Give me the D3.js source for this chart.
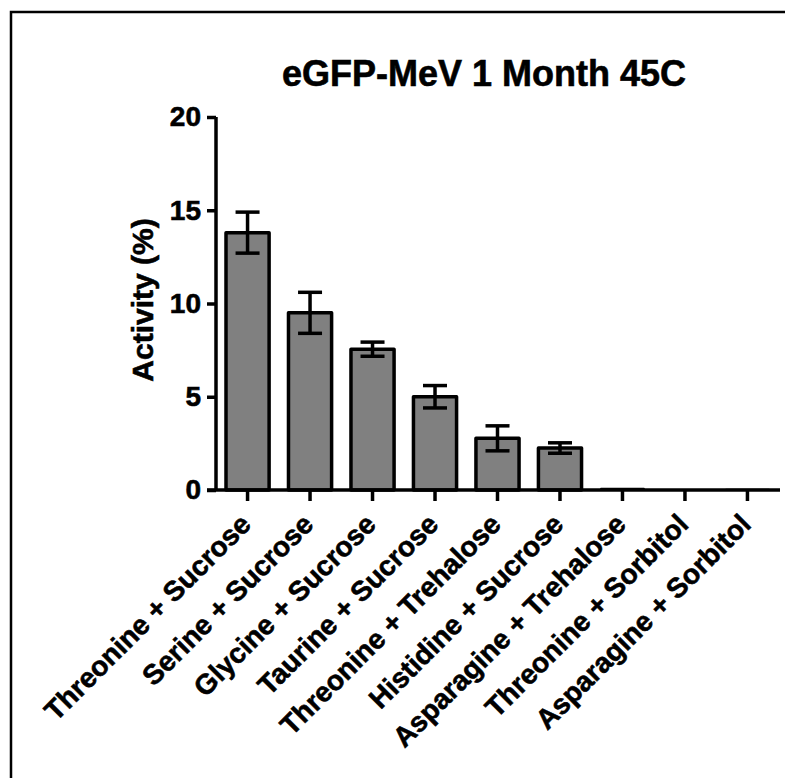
<!DOCTYPE html>
<html>
<head>
<meta charset="utf-8">
<script src="https://cdn.jsdelivr.net/npm/d3@7"></script>
<style>
  body { margin: 0; background: #fff; }
  text { font-family: "Liberation Sans", Arial, sans-serif; font-weight: bold; fill: #000; stroke: #000; stroke-width: 0.6px; }
</style>
</head>
<body>
<svg width="785" height="778"></svg>
<script>
// data
var categories = ["Threonine + Sucrose", "Serine + Sucrose", "Glycine + Sucrose", "Taurine + Sucrose",
                  "Threonine + Trehalose", "Histidine + Sucrose", "Asparagine + Trehalose",
                  "Threonine + Sorbitol", "Asparagine + Sorbitol"];
var means = [13.8, 9.5, 7.55, 5.0, 2.77, 2.25, 0.08, 0, 0.03];
var errors = [1.1, 1.1, 0.38, 0.6, 0.67, 0.28, 0.02, 0, 0];
var yTicks = [0, 5, 10, 15, 20];

var svg = d3.select("svg"),
    width = +svg.attr("width"),
    height = +svg.attr("height");

// outer frame (only top and left edges show)
svg.append("path")
    .attr("d", "M11,778V12H785")
    .attr("fill", "none")
    .attr("stroke", "#000")
    .attr("stroke-width", 2.5);

var x = d3.scaleBand()
    .domain(categories)
    .range([216, 779])
    .paddingInner(0.31)
    .paddingOuter(0.16);

var y = d3.scaleLinear()
    .domain([0, 20])
    .range([490, 117]);

// bars
svg.append("g")
    .selectAll("rect")
    .data(means)
    .enter().append("rect")
    .attr("x", function(d, i) { return x(categories[i]); })
    .attr("y", function(d) { return y(d); })
    .attr("width", x.bandwidth())
    .attr("height", function(d) { return y(0) - y(d); })
    .attr("fill", "#808080")
    .attr("stroke", "#000")
    .attr("stroke-width", function(d) { return d > 0.5 ? 3.5 : 1.5; })
    .attr("stroke-linejoin", "round");

// error bars
var err = svg.append("g")
    .attr("stroke", "#000")
    .attr("stroke-width", 3.5)
    .selectAll("g")
    .data(means.map(function(d, i) { return {m: d, e: errors[i], c: categories[i]}; }).filter(function(d) { return d.e > 0.1; }))
    .enter().append("g");

var cap = 12;
err.append("line")
    .attr("x1", function(d) { return x(d.c) + x.bandwidth() / 2; })
    .attr("x2", function(d) { return x(d.c) + x.bandwidth() / 2; })
    .attr("y1", function(d) { return y(d.m + d.e); })
    .attr("y2", function(d) { return y(d.m - d.e); });
err.append("line")
    .attr("x1", function(d) { return x(d.c) + x.bandwidth() / 2 - cap; })
    .attr("x2", function(d) { return x(d.c) + x.bandwidth() / 2 + cap; })
    .attr("y1", function(d) { return y(d.m + d.e); })
    .attr("y2", function(d) { return y(d.m + d.e); });
err.append("line")
    .attr("x1", function(d) { return x(d.c) + x.bandwidth() / 2 - cap; })
    .attr("x2", function(d) { return x(d.c) + x.bandwidth() / 2 + cap; })
    .attr("y1", function(d) { return y(d.m - d.e); })
    .attr("y2", function(d) { return y(d.m - d.e); });

// y axis
var yAxis = svg.append("g")
    .attr("transform", "translate(216,0)")
    .call(d3.axisLeft(y).tickValues(yTicks).tickSize(9).tickPadding(6));
yAxis.select(".domain").attr("stroke-width", 3.5).attr("d", "M0," + y(20) + "V" + y(0));
yAxis.selectAll(".tick line").attr("stroke-width", 3.5);
yAxis.selectAll("text").attr("font-size", 28).attr("font-family", null);

// x axis
var xAxis = svg.append("g")
    .attr("transform", "translate(0,490)")
    .call(d3.axisBottom(x).tickSize(11).tickFormat(""));
xAxis.select(".domain").attr("stroke-width", 3.5).attr("d", "M207,0H780");
xAxis.selectAll(".tick line").attr("stroke-width", 3.5);

svg.append("g")
    .selectAll("text")
    .data(categories)
    .enter().append("text")
    .attr("transform", function(d) { return "translate(" + (x(d) + x.bandwidth() / 2 - 2) + ",519) rotate(-45)"; })
    .attr("text-anchor", "end")
    .attr("dy", "0.35em")
    .attr("font-size", 28)
    .text(function(d) { return d; });

// axis title
svg.append("text")
    .attr("transform", "translate(153,300) rotate(-90)")
    .attr("text-anchor", "middle")
    .attr("font-size", 30)
    .text("Activity (%)");

// chart title
svg.append("text")
    .attr("x", 484)
    .attr("y", 86)
    .attr("text-anchor", "middle")
    .attr("font-size", 36)
    .text("eGFP-MeV 1 Month 45C");
</script>
</body>
</html>
